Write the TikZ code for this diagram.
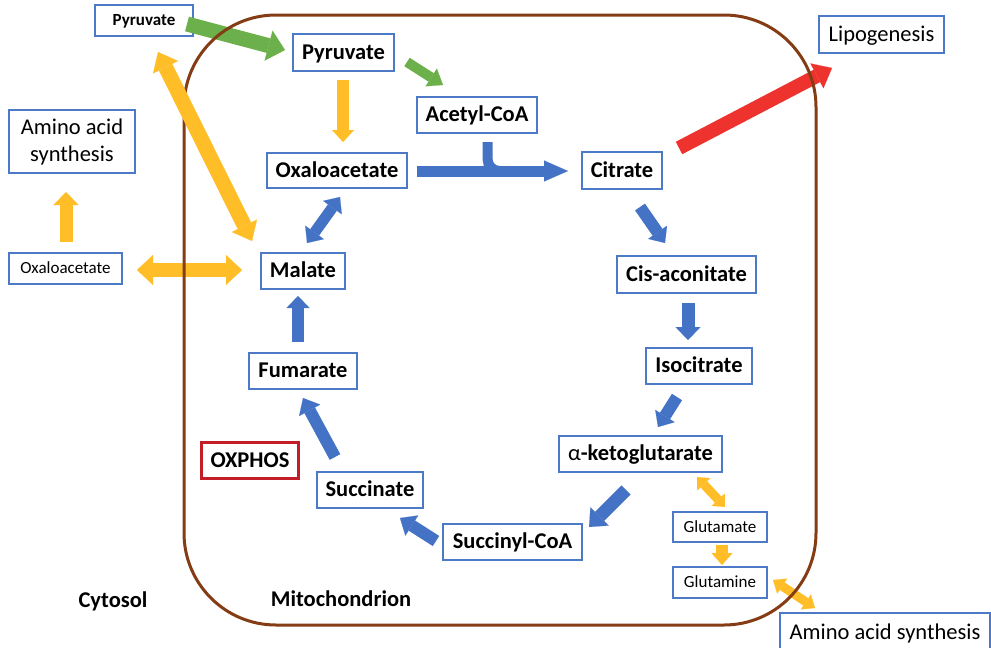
\documentclass[tikz,border=0pt]{standalone}
\usepackage{fontspec}
\setmainfont{Carlito}
\usetikzlibrary{arrows.meta,calc}
\definecolor{boxblue}{RGB}{76,122,198}
\definecolor{cblue}{RGB}{68,114,196}
\definecolor{cyel}{RGB}{255,190,40}
\definecolor{cgreen}{RGB}{108,176,76}
\definecolor{cred}{RGB}{238,50,45}
\definecolor{cbrown}{RGB}{132,60,20}
\definecolor{oxred}{RGB}{195,30,40}
\newcommand\fbig{\fontsize{22.5}{26}\selectfont\bfseries}
\newcommand\fsmb{\fontsize{17}{20}\selectfont\bfseries}
\newcommand\fsm{\fontsize{17}{20}\selectfont}
\newcommand\fmed{\fontsize{22.5}{27}\selectfont}
\tikzset{
  x=1pt,y=-1pt,
  bx/.style={draw=boxblue,line width=1.2pt,inner sep=0pt,align=center,fill=white},
  fb/.style={font=\fbig,text height=16.2pt,text depth=2.3pt},
  fm/.style={font=\fmed,text height=16.2pt,text depth=2.3pt},
  fs/.style={font=\fsm,text height=12.2pt,text depth=1.7pt},
  fsb/.style={font=\fsmb,text height=12.2pt,text depth=1.7pt},
  blk/.style n args={3}{line width=#1,-{Triangle[length=#3,width=#2,line width=0.1pt]}},
  dblk/.style n args={3}{line width=#1,{Triangle[length=#3,width=#2,line width=0.1pt]}-{Triangle[length=#3,width=#2,line width=0.1pt]}},
}
\begin{document}
\begin{tikzpicture}
\useasboundingbox (0,0) rectangle (991,648);
\clip (0,0) rectangle (991,648);
% nodes
\node[bx,minimum width=98pt,minimum height=31pt,fsb] (pyrc) at (144,20.5) {Pyruvate};
\node[bx,minimum width=101pt,minimum height=37pt,fb] (pyrm) at (343.5,52.5) {Pyruvate};
\node[bx,minimum width=120pt,minimum height=36pt,fb] (acoa) at (477,115) {Acetyl-CoA};
\node[bx,minimum width=140pt,minimum height=35pt,fb] (oaam) at (337,170.5) {Oxaloacetate};
\node[bx,minimum width=80pt,minimum height=37pt,fb] (cit) at (622,170.5) {Citrate};
\node[bx,minimum width=126pt,minimum height=63pt,font=\fmed] (aas1) at (72,141.5) {Amino acid\\synthesis};
\node[bx,minimum width=113pt,minimum height=31pt,fs] (oaac) at (65.5,268.5) {Oxaloacetate};
\node[bx,minimum width=84pt,minimum height=36pt,fb] (mal) at (303,271) {Malate};
\node[bx,minimum width=108pt,minimum height=36pt,fb] (fum) at (303,371) {Fumarate};
\node[bx,draw=oxred,line width=2.4pt,minimum width=97pt,minimum height=36pt,fb] (oxp) at (250,460.5) {OXPHOS};
\node[bx,minimum width=106pt,minimum height=36pt,fb] (suc) at (370,490) {Succinate};
\node[bx,minimum width=139pt,minimum height=36pt,fb] (sca) at (512.5,542) {Succinyl-CoA};
\node[bx,minimum width=163pt,minimum height=36pt,fb] (akg) at (640.5,454) {{\mdseries α}-ketoglutarate};
\node[bx,minimum width=139pt,minimum height=37pt,fb] (cis) at (686.5,274.5) {Cis-aconitate};
\node[bx,minimum width=106pt,minimum height=36pt,fb] (iso) at (699,366) {Isocitrate};
\node[bx,minimum width=94pt,minimum height=30pt,fs] (glu) at (720,527) {Glutamate};
\node[bx,minimum width=94pt,minimum height=31pt,fs] (gln) at (720,582.5) {Glutamine};
\node[bx,minimum width=210pt,minimum height=40pt,fm] (aas2) at (885,633) {Amino acid synthesis};
\node[bx,minimum width=125pt,minimum height=37pt,fm] (lip) at (881.5,34.5) {Lipogenesis};
\node[fb] (cyto) at (113,601) {Cytosol};
\node[fb] (mito) at (341,600) {Mitochondrion};
% arrows
\draw[cgreen,blk={15pt}{31pt}{17pt}] ($(pyrc)+(43,3.5)$) -- ($(pyrm)+(-58.5,-2.5)$);
\draw[cgreen,blk={10pt}{21pt}{14pt}] ($(pyrm)+(63.5,9.5)$) -- ($(acoa)+(-34,-30)$);
\draw[cyel,blk={12pt}{22pt}{12pt}] ($(pyrm)+(-0.5,27.5)$) -- ($(oaam)+(6,-28.5)$);
\draw[cyel,blk={13pt}{25pt}{13pt}] ($(oaac)+(0.5,-26.5)$) -- ($(aas1)+(-6,50.5)$);
\draw[cyel,dblk={14pt}{30pt}{16pt}] ($(oaac)+(71.5,1.5)$) -- ($(mal)+(-61,-1)$);
\draw[cblue,dblk={11pt}{23pt}{13pt}] ($(mal)+(4,-28)$) -- ($(oaam)+(3,26.5)$);
\draw[cblue,blk={12pt}{23pt}{12pt}] ($(fum)+(-5,-29)$) -- ($(mal)+(-5,25)$);
\draw[cblue,blk={12pt}{24pt}{14pt}] ($(suc)+(-35,-33)$) -- ($(fum)+(0,27)$);
\draw[cblue,blk={12pt}{24pt}{14pt}] ($(sca)+(-76.5,-1)$) -- ($(suc)+(30,28)$);
\draw[cblue,blk={13pt}{26pt}{15pt}] ($(akg)+(-14.5,36)$) -- ($(sca)+(76.5,-15)$);
\draw[cblue,blk={12pt}{23pt}{13pt}] ($(cit)+(18,36.5)$) -- ($(cis)+(-21.5,-31.5)$);
\draw[cblue,blk={13pt}{25pt}{13pt}] ($(cis)+(1.5,28.5)$) -- ($(iso)+(-11,-26)$);
\draw[cblue,blk={12pt}{23pt}{13pt}] ($(iso)+(-22,31)$) -- ($(akg)+(17.5,-27)$);
\draw[cblue,line width=10pt,rounded corners=12pt] ($(acoa)+(10.5,27)$) -- ($(acoa)+(10.5,56)$) -- ($(acoa)+(45,56)$);
\draw[cblue,blk={11pt}{21pt}{24pt}] ($(oaam)+(80,0.5)$) -- ($(cit)+(-54,0.5)$);
\draw[cred,blk={14pt}{28pt}{17pt}] ($(cit)+(57,-22.5)$) -- ($(lip)+(-49.5,33.5)$);
\draw[cyel,dblk={9pt}{18pt}{10pt}] ($(akg)+(56.5,23)$) -- ($(glu)+(5,-20)$);
\draw[cyel,blk={12pt}{21pt}{12pt}] ($(glu)+(2,18)$) -- ($(gln)+(2,-17.5)$);
\draw[cyel,dblk={9pt}{18pt}{11pt}] ($(gln)+(53,-2.5)$) -- ($(aas2)+(-70,-25)$);
% mitochondrion membrane
\draw[cbrown,line width=3pt,rounded corners=92pt] (184,15) rectangle (816,625);
% yellow arrow over the membrane
\draw[cyel,dblk={15pt}{28pt}{17pt}] ($(pyrc)+(14,31.5)$) -- ($(mal)+(-51,-30)$);
\end{tikzpicture}
\end{document}
